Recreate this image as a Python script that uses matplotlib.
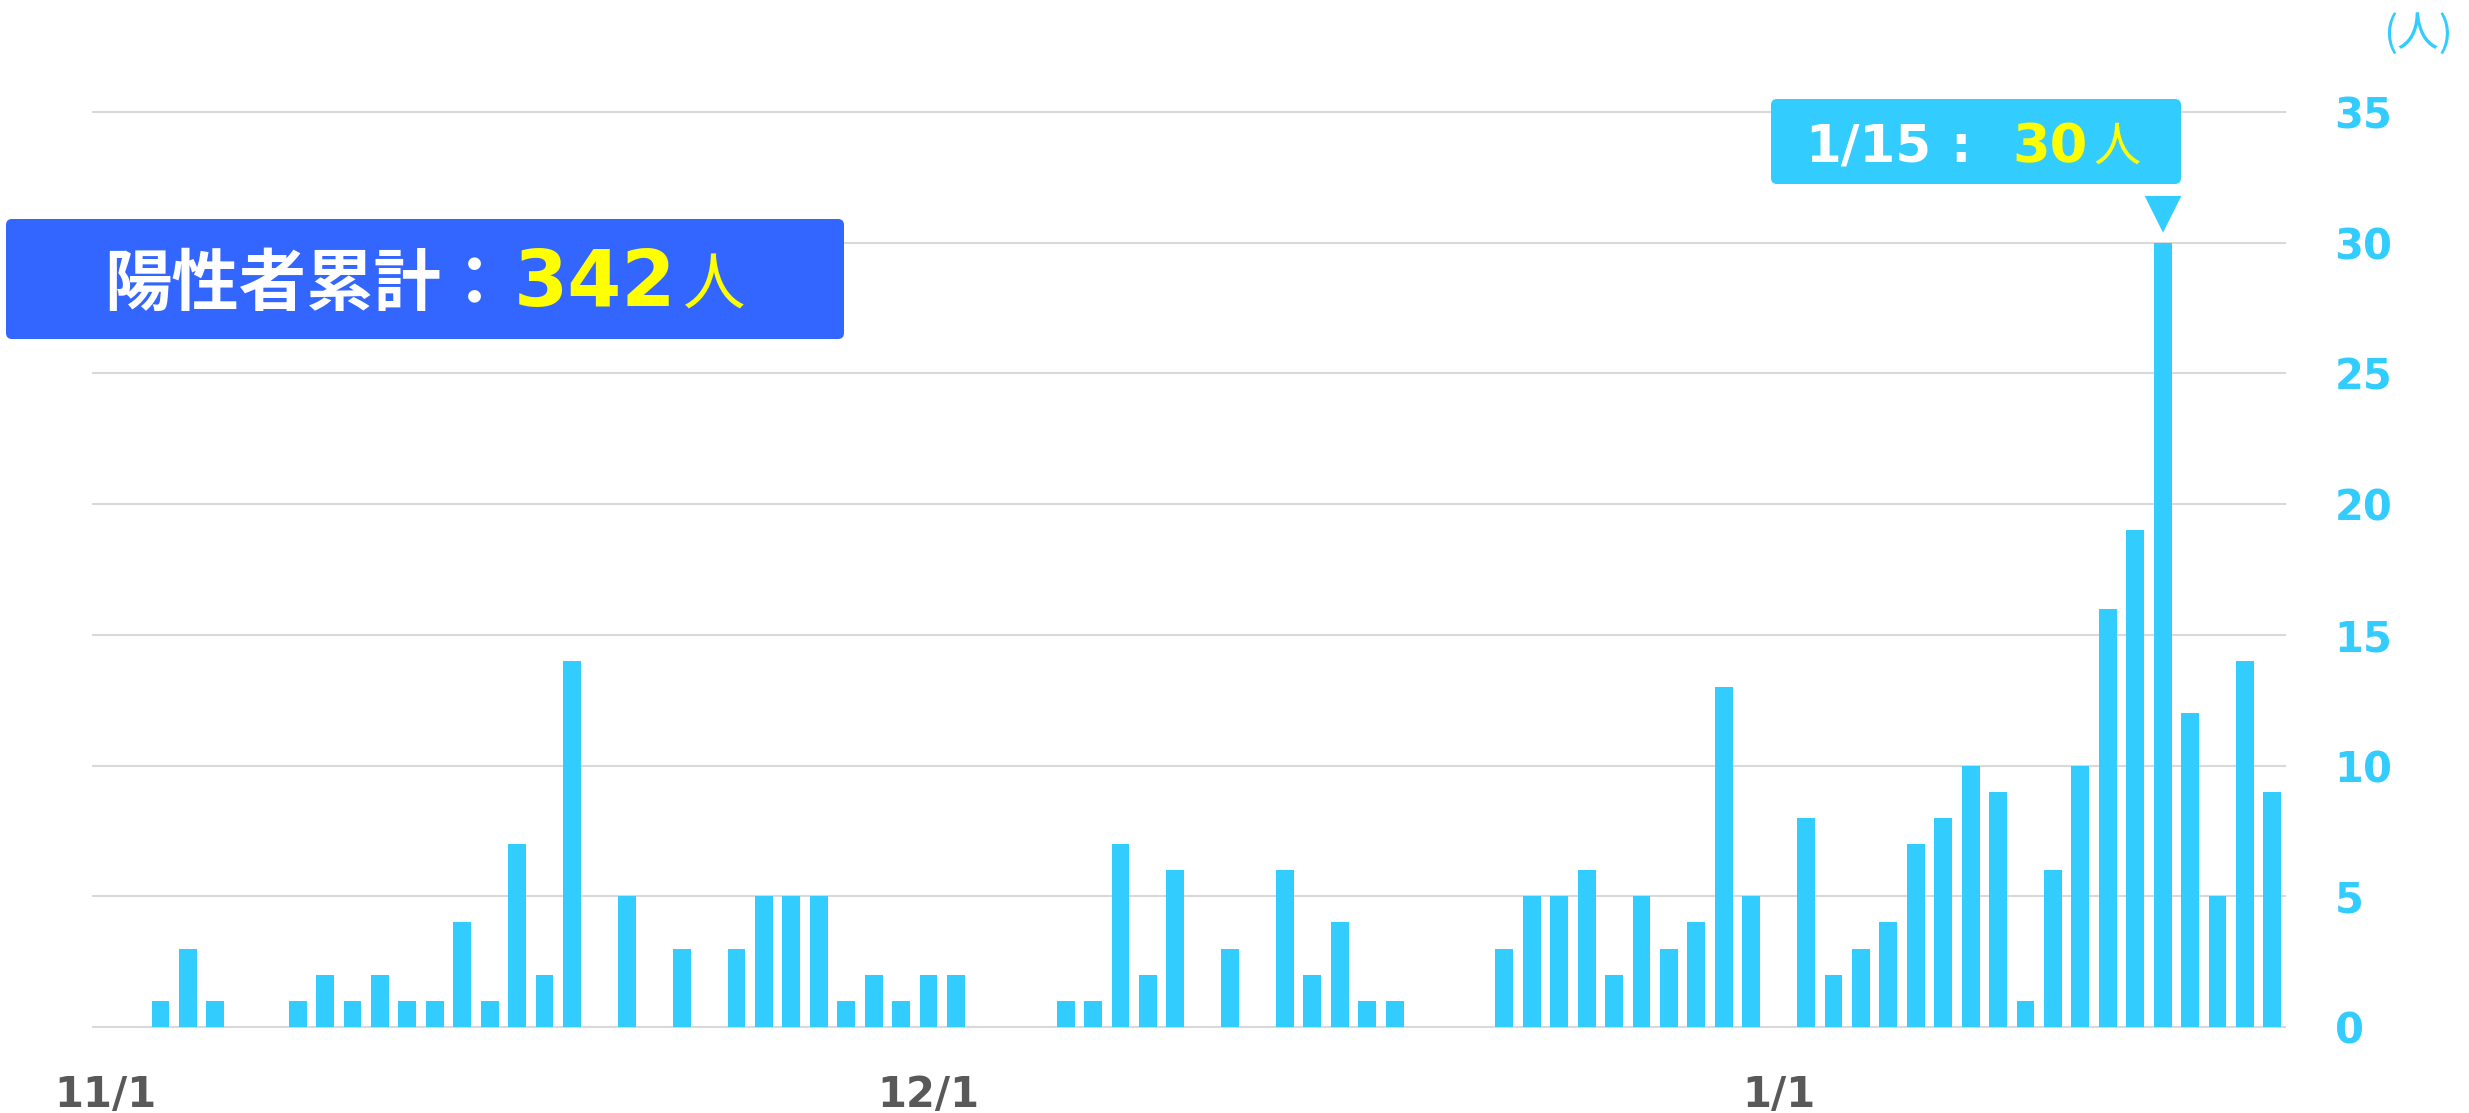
import numpy as np
import pandas as pd
import matplotlib
matplotlib.use('Agg')
import matplotlib.pyplot as plt
from matplotlib.patches import FancyBboxPatch
from matplotlib.transforms import IdentityTransform, offset_copy

plt.rcParams['font.family'] = ['DejaVu Sans', 'Noto Sans CJK JP']

# daily positive cases, one value per day starting 11/1
nov = [0, 0, 1, 3, 1, 0, 0, 1, 2, 1, 2, 1, 1, 4, 1, 7, 2, 14, 0, 5,
       0, 3, 0, 3, 5, 5, 5, 1, 2, 1]
dec = [2, 2, 0, 0, 0, 1, 1, 7, 2, 6, 0, 3, 0, 6, 2, 4, 1, 1, 0, 0,
       0, 3, 5, 5, 6, 2, 5, 3, 4, 13, 5]
jan = [0, 8, 2, 3, 4, 7, 8, 10, 9, 1, 6, 10, 16, 19, 30, 12, 5, 14, 9]
start_date = '2020-11-01'
total_cases = 342
y_ticks = [0, 5, 10, 15, 20, 25, 30, 35]

cases = nov + dec + jan
dates = pd.date_range(start_date, periods=len(cases))
x = np.arange(len(cases))
firsts = dates.day == 1
tick_pos = x[firsts]
tick_labels = [f'{d.month}/{d.day}' for d in dates[firsts]]
peak = int(np.argmax(cases))
peak_date = dates[peak]

BAR = '#33CCFF'
BOX = '#3366FF'
YEL = '#FFFF00'
W, H = 2469, 1113

fig = plt.figure(figsize=(W / 100, H / 100), dpi=100)
ax = fig.add_axes([92 / W, 0.0761, (2286 - 92) / W, 0.8256])

ax.bar(x, cases, width=0.65, color=BAR, zorder=2)
ax.set_xlim(-0.5, len(cases) - 0.5)
ax.set_ylim(-0.05, 35.1)
ax.set_yticks(y_ticks)
ax.yaxis.tick_right()
ax.grid(axis='y', color='#D9D9D9', linewidth=1.5)
ax.set_axisbelow(True)
for s in ax.spines.values():
    s.set_visible(False)
ax.tick_params(axis='y', length=0, pad=35, labelsize=30, labelcolor=BAR)
ax.tick_params(axis='x', length=0, pad=33, labelsize=30, labelcolor='#595959')
ax.set_xticks(tick_pos, tick_labels)
for t in ax.get_yticklabels():
    t.set_fontweight('bold')
for t in ax.get_xticklabels():
    t.set_fontweight('bold')

px = IdentityTransform()

# unit label
fig.text(2418, H - 34, '(人)', transform=px, ha='center', va='center',
         fontsize=30, color=BAR, family=['Noto Sans CJK JP'])

# total box
fig.add_artist(FancyBboxPatch((6, H - 339), 838, 120,
                              boxstyle='round,pad=0,rounding_size=6',
                              facecolor=BOX, edgecolor='none', transform=px))
fig.text(104, H - 305, '陽性者累計：', transform=px, ha='left', va='baseline',
         fontsize=48.5, color='white', fontweight='bold',
         family=['Noto Sans CJK JP'])
fig.text(514, H - 306, str(total_cases), transform=px, ha='left', va='baseline',
         fontsize=56, color=YEL, fontweight='bold')
fig.text(683, H - 305, '人', transform=px, ha='left', va='baseline',
         fontsize=45, color=YEL, family=['Noto Sans CJK JP'])

# peak box
fig.add_artist(FancyBboxPatch((1771, H - 184), 410, 85,
                              boxstyle='round,pad=0,rounding_size=6',
                              facecolor=BAR, edgecolor='none', transform=px))
fig.text(1805, H - 162, f'{peak_date.month}/{peak_date.day}', transform=px,
         ha='left', va='baseline', fontsize=37, color='white', fontweight='bold')
fig.text(1960, H - 162, ':', transform=px, ha='center', va='baseline',
         fontsize=37, color='white', fontweight='bold')
fig.text(2012, H - 162, str(cases[peak]), transform=px, ha='left',
         va='baseline', fontsize=39, color=YEL, fontweight='bold')
fig.text(2093, H - 161, '人', transform=px, ha='left', va='baseline',
         fontsize=34, color=YEL, family=['Noto Sans CJK JP'])

# pointer above the peak bar
tri = offset_copy(ax.transData, fig=fig, x=0, y=30, units='dots')
ax.plot([peak], [cases[peak]], marker='v', markersize=21, color=BAR,
        markeredgewidth=3, markeredgecolor=BAR, transform=tri, clip_on=False)

fig.savefig('out.png', dpi=100)
